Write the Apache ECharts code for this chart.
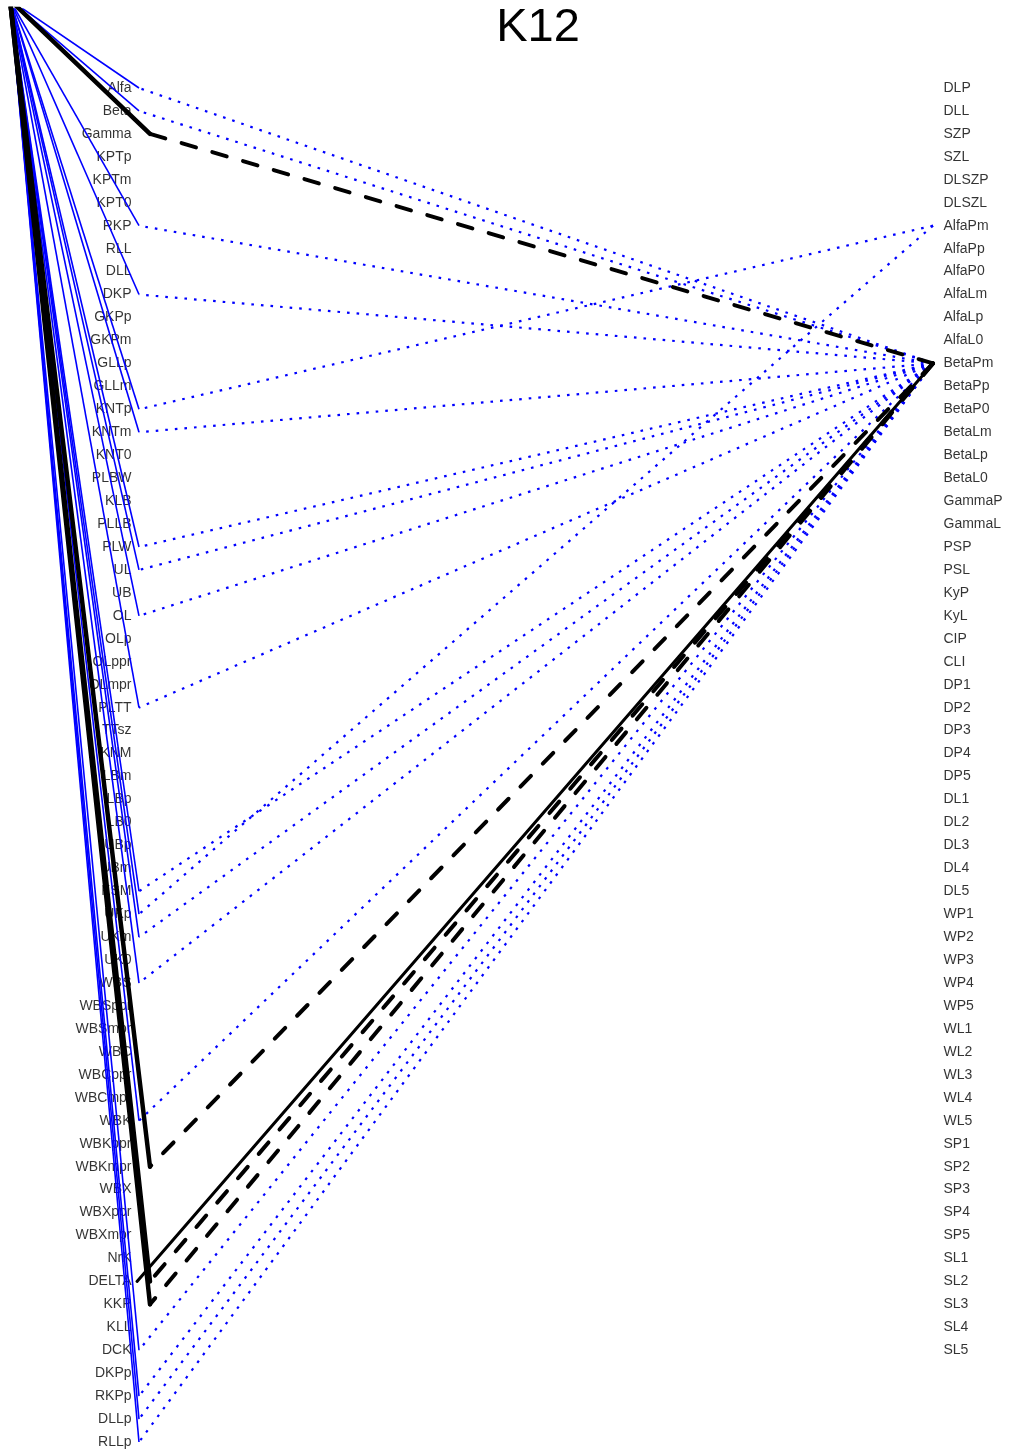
<!DOCTYPE html>
<html><head><meta charset="utf-8">
<script src="https://cdn.jsdelivr.net/npm/echarts@6/dist/echarts.min.js"></script>
<style>html,body{margin:0;padding:0;background:#fff}#c{width:1009px;height:1454px}</style>
</head><body><div id="c"></div>
<script>
// ---------- data ----------
const chartTitle = 'K12';
const leftVars = ['Alfa','Beta','Gamma','KPTp','KPTm','KPT0','RKP','RLL','DLL','DKP','GKPp','GKPm','GLLp','GLLm','KNTp','KNTm','KNT0','PLBW','KLB','PLLB','PLW','UL','UB','OL','OLp','OLppr','OLmpr','PLTT','TTsz','KNM','LBm','LBp','LB0','UBp','UBm','KSM','UKp','UKm','UK0','WBS','WBSppr','WBSmpr','WBC','WBCppr','WBCmpr','WBK','WBKppr','WBKmpr','WBX','WBXppr','WBXmpr','NrK','DELTA','KKP','KLL','DCK','DKPp','RKPp','DLLp','RLLp'];
const rightVars = ['DLP','DLL','SZP','SZL','DLSZP','DLSZL','AlfaPm','AlfaPp','AlfaP0','AlfaLm','AlfaLp','AlfaL0','BetaPm','BetaPp','BetaP0','BetaLm','BetaLp','BetaL0','GammaP','GammaL','PSP','PSL','KyP','KyL','CIP','CLI','DP1','DP2','DP3','DP4','DP5','DL1','DL2','DL3','DL4','DL5','WP1','WP2','WP3','WP4','WP5','WL1','WL2','WL3','WL4','WL5','SP1','SP2','SP3','SP4','SP5','SL1','SL2','SL3','SL4','SL5'];
// blue paths: root -> left (solid) -> right (dotted)
const blueFrom = ['Alfa','Beta','RKP','DKP','KNTp','KNTm','PLW','UL','OL','PLTT','KSM','UKp','UKm','WBS','WBK','DCK','RKPp','DLLp','RLLp'];
const blueTo   = ['BetaPm','BetaPm','BetaPm','BetaPm','AlfaPm','BetaPm','BetaPm','BetaPm','BetaPm','BetaPm','BetaPm','AlfaPm','BetaPm','BetaPm','BetaPm','BetaPm','BetaPm','BetaPm','BetaPm'];
// black paths: root -> left (thick) -> right (dashed)
const blackFrom = ['Gamma','WBKmpr','DELTA','KKP'];
const blackTo   = ['BetaPm','BetaPm','BetaPm','BetaPm'];
// black solid link: left -> right
const solidFrom = ['DELTA'];
const solidTo   = ['BetaPm'];

// ---------- layout (pixel-like x units, row-index y units) ----------
const ROOT_X = 10, LEFT_X = 139, BLACK_X = 150, SOLID_X = 137, RIGHT_X = 933;
const LLAB_X = 132, RLAB_X = 943;
const ROOT_ROW = -3.834;
const Y_MIN = -3.442, Y_MAX = 59.521;

const BLUE = '#0000ff';
const li = n => leftVars.indexOf(n);
const ri = n => rightVars.indexOf(n);
const font = 'Liberation Sans, Arial, sans-serif';

const series = [];
series.push({
  type:'scatter', z:1, silent:true, symbolSize:1, itemStyle:{color:'rgba(0,0,0,0)'},
  data: leftVars.map((n,i)=>({name:n, value:[LLAB_X, i]})),
  label:{show:true, position:'left', distance:0, formatter:'{b}', fontSize:14, fontFamily:font, color:'#000'}
});
series.push({
  type:'scatter', z:1, silent:true, symbolSize:1, itemStyle:{color:'rgba(0,0,0,0)'},
  data: rightVars.map((n,i)=>({name:n, value:[RLAB_X, i]})),
  label:{show:true, position:'right', distance:0, formatter:'{b}', fontSize:14, fontFamily:font, color:'#000'}
});
function seg(pts, style, z){
  return {type:'line', z:z, silent:true, symbol:'none', clip:true, animation:false,
    data: pts, lineStyle: style};
}
blueFrom.forEach((f,k)=>{
  series.push(seg([[ROOT_X, ROOT_ROW],[LEFT_X, li(f)]], {color:BLUE, width:1.6, type:'solid'}, 2));
  series.push(seg([[RIGHT_X, ri(blueTo[k])],[LEFT_X, li(f)]], {color:BLUE, width:2.2, type:[2.6,7]}, 2));
});
blackFrom.forEach((f,k)=>{
  series.push(seg([[ROOT_X, ROOT_ROW],[BLACK_X, li(f)]], {color:'#000', width:4.5, type:'solid', cap:'round'}, 3));
  series.push(seg([[RIGHT_X, ri(blackTo[k])],[BLACK_X, li(f)]], {color:'#000', width:4, type:[15,17], cap:'round'}, 3));
});
solidFrom.forEach((f,k)=>{
  series.push(seg([[RIGHT_X, ri(solidTo[k])],[SOLID_X, li(f)]], {color:'#000', width:3, type:'solid', cap:'round'}, 3));
});

const chart = echarts.init(document.getElementById('c'), null, {renderer:'canvas'});
chart.setOption({
  animation:false,
  backgroundColor:'#fff',
  title:{text:chartTitle, left:533, top:0, textAlign:'center',
    textStyle:{fontSize:47, fontWeight:'normal', fontFamily:font, color:'#000'}},
  grid:{left:0, right:0, top:9, bottom:0, containLabel:false},
  xAxis:{type:'value', min:0, max:1009, show:false},
  yAxis:{type:'value', min:Y_MIN, max:Y_MAX, inverse:true, show:false},
  series: series
});
</script></body></html>
